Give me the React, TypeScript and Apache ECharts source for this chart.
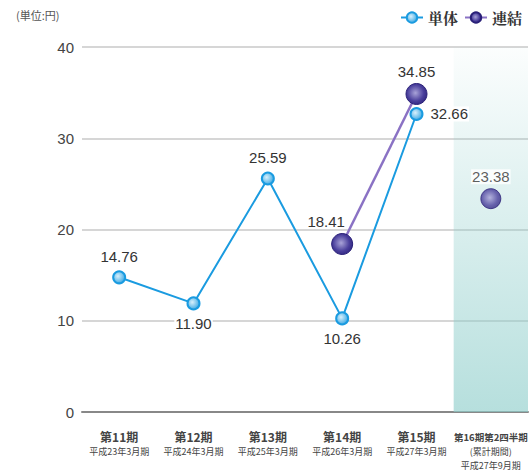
import React, { useEffect, useRef } from "react";
import * as echarts from "echarts";

const periods = ["第11期", "第12期", "第13期", "第14期", "第15期", "第16期第2四半期"];
const subLabels = ["平成23年3月期", "平成24年3月期", "平成25年3月期", "平成26年3月期", "平成27年3月期", "(累計期間)\n平成27年9月期"];
const tankai: (number | null)[] = [14.76, 11.9, 25.59, 10.26, 32.66, null];
const tankaiLabelPos = ["top", "bottom", "top", "bottom", "right", "top"];
const renketsu: (number | null)[] = [null, null, null, 18.41, 34.85, null];
const renketsuInterim: (number | null)[] = [null, null, null, null, null, 23.38];
const yTicks = [0, 10, 20, 30, 40];
const bandTop = [null, null, null, null, null, 40];

const NUM = "'Liberation Sans', Arial, sans-serif";
const JP = "'Noto Sans CJK JP', sans-serif";

export default function App() {
  const ref = useRef<HTMLDivElement>(null);
  useEffect(() => {
    if (!ref.current) return;
    const chart = echarts.init(ref.current, null, { renderer: "svg" });
    const lightBall = {
      type: "radial", x: 0.4, y: 0.4, r: 0.7,
      colorStops: [{ offset: 0, color: "#d8f0fc" }, { offset: 1, color: "#2aa0e0" }],
    };
    const darkBall = {
      type: "radial", x: 0.45, y: 0.45, r: 0.65,
      colorStops: [{ offset: 0, color: "#a9a3d8" }, { offset: 0.6, color: "#4a3f9c" }, { offset: 1, color: "#2a2078" }],
    };
    const labelStyle = { fontFamily: NUM, fontSize: 15, color: "#333", backgroundColor: "#fff", padding: [0, 1] };
    chart.setOption({
      animation: false,
      backgroundColor: "#ffffff",
      textStyle: { fontFamily: JP },
      graphic: [
        { type: "text", left: 16, top: 9, style: { text: "(単位:円)", fontSize: 11, fill: "#555", fontFamily: JP } },
      ],
      legend: {
        right: 4, top: 5, itemWidth: 22, itemHeight: 13, itemGap: 6,
        textStyle: { fontSize: 15, fontWeight: "bold", color: "#333", fontFamily: "'Noto Serif CJK JP', 'Noto Sans CJK JP', serif" },
        data: ["単体", "連結"],
      },
      grid: { left: 82, right: 3, top: 47, bottom: 58 },
      xAxis: {
        type: "category",
        data: periods,
        boundaryGap: true,
        axisLine: { lineStyle: { color: "#888", width: 2 } },
        axisTick: { show: false },
        axisLabel: {
          interval: 0, margin: 17,
          formatter: (v: string, i: number) => {
            const head = i === 5 ? `{c|${v}}` : `{a|${v}}`;
            return `${head}\n{b|${subLabels[i].split("\n").join("}\n{b|")}}`;
          },
          rich: {
            a: { fontSize: 12, fontWeight: "bold", color: "#444", fontFamily: JP, lineHeight: 15 },
            c: { fontSize: 9.5, fontWeight: "bold", color: "#444", fontFamily: JP, lineHeight: 15 },
            b: { fontSize: 9, color: "#444", fontFamily: JP, lineHeight: 14 },
          },
        },
      },
      yAxis: {
        type: "value",
        min: yTicks[0], max: yTicks[yTicks.length - 1], interval: 10,
        axisLine: { show: false },
        axisTick: { show: false },
        splitLine: { lineStyle: { color: "#c8c8c8", width: 1.5 } },
        axisLabel: { margin: 8, fontSize: 15, color: "#444", fontFamily: NUM },
      },
      series: [
        {
          name: "band", type: "bar", data: bandTop, barWidth: "100%", z: 0, silent: true,
          itemStyle: {
            color: {
              type: "linear", x: 0, y: 0, x2: 0, y2: 1,
              colorStops: [{ offset: 0, color: "rgba(143,206,203,0.03)" }, { offset: 1, color: "rgba(143,206,203,0.65)" }],
            },
          },
        },
        {
          name: "単体", type: "line", z: 3,
          data: tankai.map((v, i) => ({ value: v, label: { position: tankaiLabelPos[i] } })),
          symbol: "circle", symbolSize: 12,
          lineStyle: { color: "#1a9be0", width: 2 },
          itemStyle: { color: lightBall, borderColor: "#1a9be0", borderWidth: 2 },
          label: {
            show: true, ...labelStyle, distance: 6,
            formatter: (p: any) => p.value.toFixed(2),
          },
        },
        {
          name: "連結", type: "line", data: renketsu, z: 4,
          symbol: "circle", symbolSize: 21,
          lineStyle: { color: "#8a72c4", width: 2.5 },
          itemStyle: { color: darkBall, borderColor: "#2a2078", borderWidth: 1 },
          label: {
            show: true, ...labelStyle, position: "top", distance: 4,
            formatter: (p: any) => p.value.toFixed(2),
          },
          labelLayout: (p: any) => (p.dataIndex === 3 ? { dx: -16 } : {}),
        },
        {
          name: "連結", type: "scatter", data: renketsuInterim, z: 4,
          symbol: "circle", symbolSize: 20,
          itemStyle: { color: darkBall, borderColor: "#2a2078", borderWidth: 1 },
          label: {
            show: true, ...labelStyle, position: "top", distance: 4,
            formatter: (p: any) => p.value.toFixed(2),
          },
        },
      ],
    });
    return () => chart.dispose();
  }, []);
  return <div ref={ref} style={{ width: 531, height: 470, position: "absolute", left: 0, top: 0 }} />;
}
